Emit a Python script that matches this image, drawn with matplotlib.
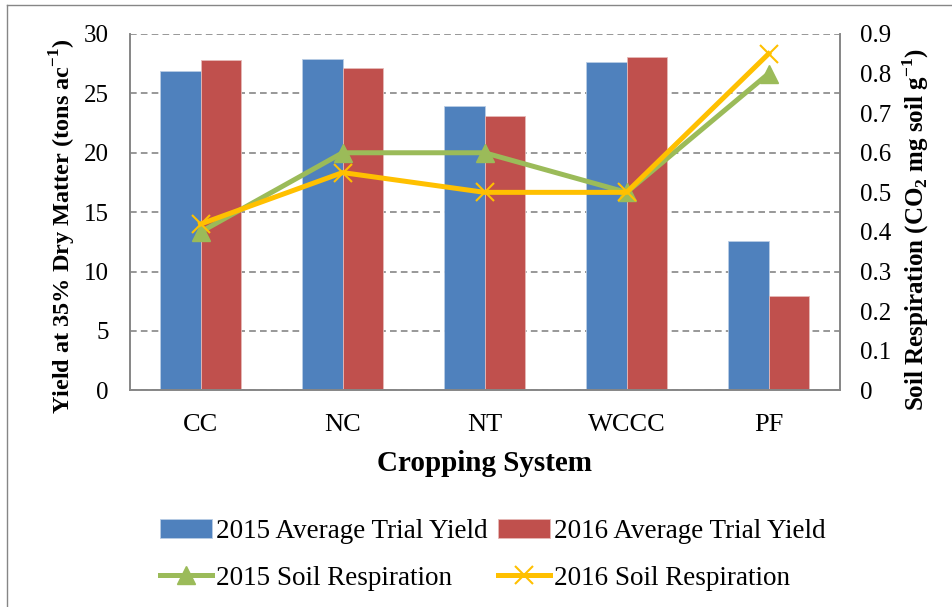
import numpy as np
import matplotlib.pyplot as plt
from matplotlib.lines import Line2D

plt.rcParams['font.family'] = ['Liberation Serif', 'DejaVu Serif']
plt.rcParams['mathtext.fontset'] = 'custom'
plt.rcParams['mathtext.rm'] = 'Liberation Serif'
plt.rcParams['mathtext.bf'] = 'Liberation Serif:bold'

systems = ["CC", "NC", "NT", "WCCC", "PF"]
yield_2015 = [26.9, 27.9, 23.9, 27.6, 12.55]
yield_2016 = [27.8, 27.1, 23.1, 28.1, 7.95]
resp_2015 = [0.40, 0.60, 0.60, 0.50, 0.80]
resp_2016 = [0.42, 0.55, 0.50, 0.50, 0.85]

fig = plt.figure(figsize=(9.53, 6.07), dpi=100)
ax = fig.add_axes([0.136, 0.357, 0.745, 0.587])
ax2 = ax.twinx()

x = np.arange(len(systems))
w = 0.285
b1 = ax.bar(x - w/2, yield_2015, w, color="#4F81BD", edgecolor="#B9CDE5", linewidth=0.6,
            label="2015 Average Trial Yield")
b2 = ax.bar(x + w/2, yield_2016, w, color="#C0504D", edgecolor="#E6B9B8", linewidth=0.6,
            label="2016 Average Trial Yield")

l1, = ax2.plot(x, resp_2015, color="#9BBB59", lw=3.6, marker="^", ms=13,
               label="2015 Soil Respiration")
l2, = ax2.plot(x, resp_2016, color="#FFC000", lw=3.6, marker="x", ms=13, mew=1.5,
               label="2016 Soil Respiration")

ax.set_xlim(-0.5, 4.5)
ax.set_ylim(0, 30)
ax.set_yticks(range(0, 31, 5))
ax2.set_ylim(0, 0.9)
ax2.set_yticks(np.arange(0, 0.91, 0.1))
ax2.set_yticklabels(["0"] + ["%.1f" % v for v in np.arange(0.1, 0.91, 0.1)])
ax.set_xticks(x)
ax.set_xticklabels(systems)

ax.yaxis.grid(True, ls=(0, (4, 2.5)), color="#868686", lw=1.2)
ax.set_axisbelow(True)

for a in (ax, ax2):
    a.spines["top"].set_visible(False)
    for s in ("left", "right", "bottom"):
        a.spines[s].set_color("#868686")
        a.spines[s].set_linewidth(1.2)
    a.tick_params(length=0, labelsize=18, pad=15)
ax.tick_params(axis="x", labelsize=19, pad=17)

ax.set_xlabel("Cropping System", fontsize=21, fontweight="bold", labelpad=10)
ax.set_ylabel(r"Yield at 35% Dry Matter (tons ac$^{\mathbf{-1}}$)", fontsize=17.5,
              fontweight="bold", labelpad=4)
ax2.set_ylabel(r"Soil Respiration (CO$_{\mathbf{2}}$ mg soil g$^{\mathbf{-1}}$)", fontsize=18,
               fontweight="bold", labelpad=6)
ax.yaxis.label.set_y(0.46)
ax2.yaxis.label.set_y(0.45)

fig.legend([b1, l1, b2, l2],
           [h.get_label() for h in (b1, l1, b2, l2)],
           loc="center", bbox_to_anchor=(0.517, 0.086), ncol=2, frameon=False,
           fontsize=19.5, handlelength=1.9, handletextpad=0.15, columnspacing=0.4,
           labelspacing=0.8)

# partial chart border (left and top edges)
fig.add_artist(Line2D([0.007, 0.007], [0, 0.992], transform=fig.transFigure,
                      color="#868686", lw=1))
fig.add_artist(Line2D([0.007, 1], [0.992, 0.992], transform=fig.transFigure,
                      color="#868686", lw=1))

fig.savefig("out.png", dpi=100)
